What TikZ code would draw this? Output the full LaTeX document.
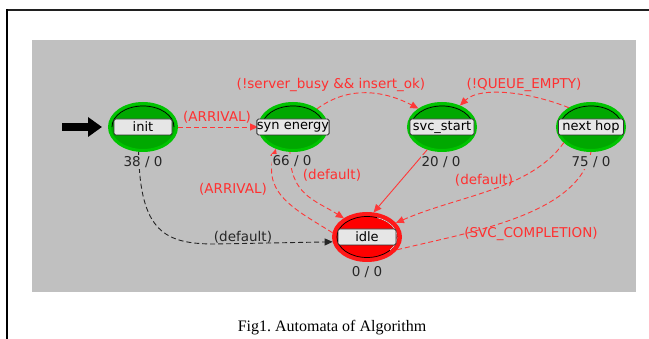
\documentclass[tikz,border=0pt]{standalone}
\usepackage{fontspec}
\setmainfont{Liberation Serif}
\newfontfamily\uifont{DejaVu Sans}
\usetikzlibrary{shapes.geometric,arrows.meta}
\definecolor{bggray}{HTML}{C0C0C0}
\definecolor{stgreen}{HTML}{00A800}
\definecolor{stgreenrim}{HTML}{00C400}
\definecolor{stred}{HTML}{FF0000}
\definecolor{stredrim}{HTML}{FF1818}
\definecolor{lblbox}{HTML}{E6E6E6}
\definecolor{trred}{HTML}{FF3838}
\definecolor{txtred}{HTML}{FF3030}
\definecolor{framegray}{HTML}{202020}
\begin{document}
\begin{tikzpicture}[x=1pt,y=-1pt,
  stnode/.style={ellipse, minimum width=67pt, minimum height=47pt, inner sep=0pt, line width=3pt, fill=stgreen, draw=stgreenrim},
  idlestate/.style={stnode, fill=stred, draw=stredrim, line width=4pt, minimum width=66pt, minimum height=46pt},
  namebox/.style={rectangle, rounded corners=1.5pt, fill=lblbox, draw=black!80, line width=0.9pt, minimum height=16pt, inner sep=0pt, font=\uifont\fontsize{13}{13}\selectfont},
  cntlabel/.style={fill=bggray, inner sep=1pt, font=\uifont\fontsize{13.5}{14}\selectfont, text=black!85},
  trans/.style={draw=trred, line width=0.9pt, dash pattern=on 5pt off 3pt},
  arrowtip/.style={-{Triangle[length=8pt,width=7pt]}},
  tlabel/.style={font=\uifont\fontsize{13.5}{14}\selectfont, text=txtred, inner sep=0pt},
]
\useasboundingbox (0,0) rectangle (649,339);
\fill[white] (0,0) rectangle (649,339);
\fill[bggray] (32,40) rectangle (636,292);
\draw[framegray, line width=2pt] (6,10) -- (649,10);
\draw[black, line width=2pt] (7,9) -- (7,339);

% states
\node[stnode] (init) at (143,127) {};
\node[stnode] (syn) at (293,127) {};
\node[stnode] (svc) at (442,127) {};
\node[stnode] (nxt) at (591,127) {};
\node[idlestate] (idle) at (367,237) {};
\foreach \n in {init,syn,svc,nxt}
  \draw[black, line width=0.7pt] (\n.center) ++(-31,0) arc[start angle=180,end angle=360,x radius=31,y radius=21];
\draw[black, line width=0.7pt] (idle.center) ellipse [x radius=30, y radius=20.5];
\draw[pink!80!white, line width=0.7pt] (idle.center) ++(290:30 and 20.5) arc[start angle=290,end angle=400,x radius=30,y radius=20.5];

% entry arrow
\coordinate (entry) at (62,127);
\draw[black, line width=8pt, -{Triangle[length=14pt,width=19pt]}] (entry) -- ([xshift=-6pt]init.west);

% transitions
\draw[trans, arrowtip] (init.east) -- (syn.west);
\draw[trans, arrowtip] (syn.37) .. controls (345,88) and (379,88) .. (svc.142);
\draw[trans, arrowtip] (nxt.139) .. controls (530,92) and (480,86) .. (svc.50);
\draw[draw=trred, line width=0.9pt, arrowtip] (svc.237) -- (idle.75);
\draw[trans, arrowtip] (syn.-97) .. controls (290,195) and (315,200) .. (idle.141);
\draw[trans, arrowtip] (idle.173) .. controls (300,212) and (262,195) .. (syn.232);
\draw[trans, draw=black!85, arrowtip] (init.-100) .. controls (140,232) and (165,244) .. (215,244) -- (idle.188);
\draw[trans, arrowtip] (nxt.210) .. controls (530,190) and (460,195) .. (idle.26);
\draw[trans] (idle.-23) .. controls (470,232) and (578,215) .. (nxt.-90);

% name boxes
\node[namebox, minimum width=58pt] (initL) at (init.center) {init};
\node[namebox, minimum width=71pt] (synL) at (syn.center) {syn energy};
\node[namebox, minimum width=64pt] (svcL) at (svc.center) {svc\_start};
\node[namebox, minimum width=65pt] (nxtL) at (nxt.center) {next hop};
\node[namebox, minimum width=58pt] (idleL) at (idle.center) {idle};

% counts
\node[cntlabel] (cinit) at (143,162) {38 / 0};
\node[cntlabel] (csyn) at (292,161) {66 / 0};
\node[cntlabel] (csvc) at (441,162) {20 / 0};
\node[cntlabel] (cnxt) at (591,162) {75 / 0};
\node[cntlabel] (cidle) at (367,272) {0 / 0};

% transition labels
\node[tlabel] (l1) at (217,117) {(ARRIVAL)};
\node[tlabel] (l2) at (331,85) {(!server\_busy \&\& insert\_ok)};
\node[tlabel] (l3) at (524,85) {(!QUEUE\_EMPTY)};
\node[tlabel] (l4) at (332,175) {(default)};
\node[tlabel] (l5) at (233,189) {(ARRIVAL)};
\node[tlabel, text=black!85] (l6) at (243,237) {(default)};
\node[tlabel] (l7) at (484,180) {(default)};
\node[tlabel] (l8) at (531,234) {(SVC\_COMPLETION)};

\node[font=\fontsize{16}{18}\selectfont, inner sep=0pt] (cap) at (332,328) {Fig1.\ Automata of Algorithm};
\end{tikzpicture}
\end{document}
